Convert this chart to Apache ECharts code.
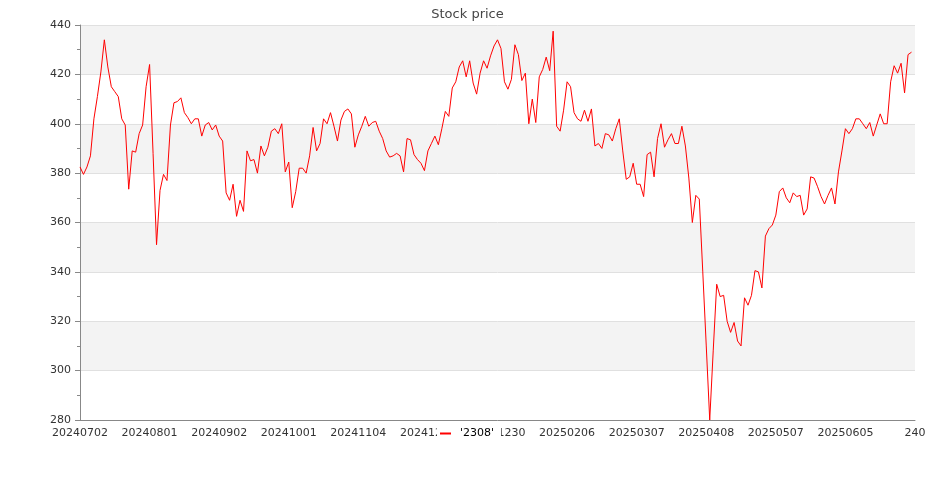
<!DOCTYPE html>
<html>
<head>
<meta charset="utf-8">
<title>Stock price</title>
<script src="https://cdn.jsdelivr.net/npm/echarts@6/dist/echarts.min.js"></script>
<style>
  html, body {
    margin: 0;
    padding: 0;
    background: #fff;
  }
  #chart {
    width: 935px;
    height: 500px;
  }
</style>
</head>
<body>
<div id="chart"></div>
<script>
  // trading calendar: weekdays between the two dates, minus the days with no quote
  const firstDay = '20240702'
  const lastDay = '20250702'
  const closedDays = [
    '20240724', '20240725', '20240815', '20240816', '20240917',
    '20241002', '20241003', '20241010', '20241031',
    '20250101', '20250123', '20250124', '20250127', '20250128', '20250129',
    '20250130', '20250131', '20250228', '20250403', '20250404',
    '20250501', '20250530'
  ]
  // last category on the axis has no quote
  const tailLabel = '240'

  const seriesName = "'2308'"
  const closePrice = [
    382.5, 379.5, 382.5, 387, 402, 411, 421, 434, 423, 415,
    413, 411, 402, 399.5, 373.5, 389, 388.5, 396, 399.5, 415,
    424, 388, 351, 373, 379.5, 377, 399.5, 408.5, 409, 410.5,
    404.5, 402.5, 400, 402, 402, 395, 399.5, 400.5, 397.5, 399.5,
    395, 393, 372, 369, 375.5, 362.5, 369, 364.5, 389, 385,
    385.5, 380, 391, 387, 390.5, 397, 398, 396, 400, 380.5,
    384.5, 366, 372.5, 382, 382, 380, 387, 398.5, 389, 392,
    402, 400, 404.5, 399, 393, 401.5, 405, 406, 404, 390.5,
    395.5, 399, 403, 399, 400.5, 401, 397, 394, 389, 386.5,
    387, 388, 387, 380.5, 394, 393.5, 387.5, 385.5, 384, 381,
    389, 392, 395, 391.5, 398, 405, 403, 414.5, 417, 423,
    425.5, 419, 425.5, 416.5, 412, 420.5, 425.5, 422.5, 427.5, 431.5,
    434, 430.5, 417, 414, 418, 432, 428, 417.5, 420.5, 400,
    410, 400.5, 419, 422, 427, 421.5, 437.5, 399, 397, 405.5,
    417, 415, 404.5, 402, 401, 405.5, 401, 406, 391, 392,
    390, 396, 395.5, 393, 398, 402, 389, 377.5, 378.5, 384,
    375.5, 375.5, 370.5, 387.5, 388.5, 378.5, 394, 400, 390.5, 393.5,
    396, 392, 392, 399, 391, 378, 360, 371, 369.5, 340,
    310, 280, 308, 335, 330, 330.5, 320, 315.5, 319.5, 312,
    310, 329.5, 326.5, 330.5, 340.5, 340, 333.5, 354.5, 357.5, 359,
    363, 372.5, 374, 370, 368, 372, 370.5, 371, 363, 365.5,
    378.5, 378, 374.5, 370.5, 367.5, 371, 374, 367.5, 380.5, 389,
    398, 396, 398, 402, 402, 400, 398, 400.5, 395, 399.5,
    404, 400, 400, 417, 423.5, 420.5, 424.5, 412.5, 428, 429
  ]

  const yMin = 280
  const yMax = 440
  const yStep = 20

  const font = 'DejaVu Sans'

  function dayKey(d) {
    const m = d.getUTCMonth() + 1
    const day = d.getUTCDate()
    return '' + d.getUTCFullYear() + (m < 10 ? '0' : '') + m + (day < 10 ? '0' : '') + day
  }

  function toDate(s) {
    return new Date(Date.UTC(+s.slice(0, 4), +s.slice(4, 6) - 1, +s.slice(6, 8)))
  }

  function tradingDays() {
    const list = []
    const end = toDate(lastDay)
    for (let d = toDate(firstDay); d <= end; d.setUTCDate(d.getUTCDate() + 1)) {
      const wd = d.getUTCDay()
      const key = dayKey(d)
      if (wd === 0 || wd === 6 || closedDays.indexOf(key) >= 0) {
        continue
      }
      list.push(key)
    }
    return list
  }

  const categories = tradingDays()
  categories.push(tailLabel)

  const chart = echarts.init(document.getElementById('chart'), null, { renderer: 'canvas' })
  chart.setOption({
    animation: false,
    textStyle: {
      fontFamily: font
    },
    title: {
      text: 'Stock price',
      left: 'center',
      top: 3,
      textStyle: {
        fontFamily: font,
        fontSize: 13,
        fontWeight: 'normal',
        color: '#464646'
      }
    },
    legend: {
      data: [seriesName],
      left: 437,
      top: 425,
      backgroundColor: '#fff',
      padding: [3, 7, 3, 3],
      icon: 'rect',
      itemWidth: 11,
      itemHeight: 2,
      textStyle: {
        fontFamily: font,
        color: '#000',
        fontSize: 11,
        padding: [0, 0, 0, 4]
      }
    },
    grid: {
      left: 80,
      right: 20,
      top: 25,
      bottom: 80
    },
    xAxis: {
      type: 'category',
      data: categories,
      boundaryGap: false,
      axisLine: {
        lineStyle: {
          color: '#888'
        }
      },
      axisTick: {
        show: false
      },
      axisLabel: {
        interval: 19,
        fontFamily: font,
        color: '#333',
        fontSize: 11,
        margin: 8
      },
      splitLine: {
        show: false
      }
    },
    yAxis: {
      type: 'value',
      min: yMin,
      max: yMax,
      interval: yStep,
      axisLine: {
        show: true,
        lineStyle: {
          color: '#888'
        }
      },
      axisTick: {
        show: true,
        length: 5,
        lineStyle: {
          color: '#888'
        }
      },
      minorTick: {
        show: true,
        splitNumber: 2,
        length: 3,
        lineStyle: {
          color: '#888'
        }
      },
      axisLabel: {
        fontFamily: font,
        color: '#333',
        fontSize: 11,
        margin: 9
      },
      splitLine: {
        lineStyle: {
          color: '#e0e0e0'
        }
      },
      splitArea: {
        show: true,
        areaStyle: {
          color: ['#ffffff', '#f3f3f3']
        }
      }
    },
    series: [
      {
        name: seriesName,
        type: 'line',
        data: closePrice,
        showSymbol: false,
        symbol: 'none',
        itemStyle: {
          color: '#ff0000'
        },
        lineStyle: {
          color: '#ff0000',
          width: 1
        }
      }
    ]
  })
</script>
</body>
</html>
